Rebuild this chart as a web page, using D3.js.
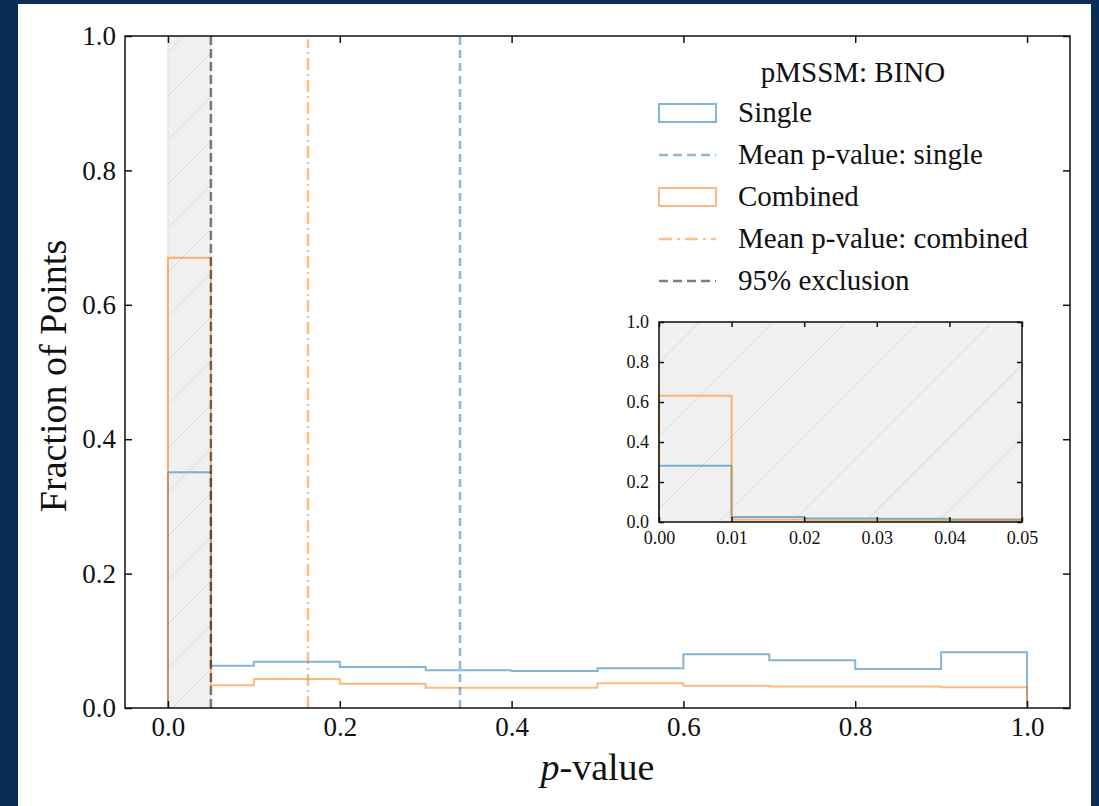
<!DOCTYPE html>
<html>
<head>
<meta charset="utf-8">
<script src="https://cdn.jsdelivr.net/npm/d3@7"></script>
<style>
  html, body { margin: 0; padding: 0; background: #0b2d55; }
  svg { display: block; }
  text { font-family: "Liberation Serif", "DejaVu Serif", serif; fill: #111; }
</style>
</head>
<body>
<svg id="chart"></svg>
<script>
// histogram bin edges and fractions (main panel)
const binEdges = [0, 0.05, 0.1, 0.2, 0.3, 0.4, 0.5, 0.6, 0.7, 0.8, 0.9, 1.0];
const singleFrac = [0.351, 0.063, 0.069, 0.061, 0.056, 0.055, 0.059, 0.080, 0.071, 0.058, 0.083];
const combinedFrac = [0.670, 0.034, 0.043, 0.036, 0.030, 0.030, 0.037, 0.033, 0.032, 0.032, 0.031];

// inset (zoom on 0 - 0.05)
const insetEdges = [0, 0.01, 0.02, 0.03, 0.04, 0.05];
const insetSingle = [0.281, 0.025, 0.018, 0.016, 0.013];
const insetCombined = [0.631, 0.013, 0.008, 0.008, 0.007];

const meanSingle = 0.34;
const meanCombined = 0.163;
const exclusion = 0.05;

const xTicks = [0, 0.2, 0.4, 0.6, 0.8, 1.0];
const yTicks = [0, 0.2, 0.4, 0.6, 0.8, 1.0];
const insetXTicks = [0, 0.01, 0.02, 0.03, 0.04, 0.05];

const legendItems = ["Single", "Mean p-value: single", "Combined", "Mean p-value: combined", "95% exclusion"];

const W = 1099, H = 806;
const blue = "#1f77b4", orange = "#ff7f0e";

const svg = d3.select("#chart").attr("width", W).attr("height", H);

// white page inside navy border
svg.append("rect").attr("x", 18).attr("y", 4).attr("width", 1073).attr("height", H - 4).attr("fill", "#fff");

const defs = svg.append("defs");
function hatch(id, size) {
  const p = defs.append("pattern").attr("id", id)
    .attr("patternUnits", "userSpaceOnUse").attr("width", size).attr("height", size);
  p.append("rect").attr("width", size).attr("height", size).attr("fill", "#f0f0f0");
  p.append("path")
    .attr("d", `M0,${size} L${size},0 M${-size / 2},${size / 2} L${size / 2},${-size / 2} M${size / 2},${size * 1.5} L${size * 1.5},${size / 2}`)
    .attr("stroke", "#dadada").attr("stroke-width", 1);
}
hatch("hatchMain", 44);
hatch("hatchInset", 73);

// step path from edges + heights
function stepPath(x, y, edges, vals) {
  const pts = [[edges[0], 0]];
  vals.forEach((v, i) => { pts.push([edges[i], v]); pts.push([edges[i + 1], v]); });
  pts.push([edges[edges.length - 1], 0]);
  return d3.line().x(d => x(d[0])).y(d => y(d[1]))(pts);
}

// ---- main axes
const m = { left: 125, right: 1070, top: 36, bottom: 708 };
const x = d3.scaleLinear().domain([-0.05, 1.05]).range([m.left, m.right]);
const y = d3.scaleLinear().domain([0, 1]).range([m.bottom, m.top]);

const g = svg.append("g");
g.append("rect")
  .attr("x", x(0)).attr("y", y(1))
  .attr("width", x(exclusion) - x(0)).attr("height", y(0) - y(1))
  .attr("fill", "url(#hatchMain)").attr("stroke", "#e0e0e0").attr("stroke-width", 1);

g.append("path").attr("d", stepPath(x, y, binEdges, singleFrac))
  .attr("fill", "none").attr("stroke", blue).attr("stroke-opacity", 0.55).attr("stroke-width", 2);
g.append("path").attr("d", stepPath(x, y, binEdges, combinedFrac))
  .attr("fill", "none").attr("stroke", orange).attr("stroke-opacity", 0.55).attr("stroke-width", 2);

g.append("line").attr("x1", x(meanSingle)).attr("x2", x(meanSingle)).attr("y1", y(0)).attr("y2", y(1))
  .attr("stroke", "#1f6fa8").attr("stroke-opacity", 0.5).attr("stroke-width", 2.5).attr("stroke-dasharray", "8,5");
g.append("line").attr("x1", x(meanCombined)).attr("x2", x(meanCombined)).attr("y1", y(0)).attr("y2", y(0.995))
  .attr("stroke", orange).attr("stroke-opacity", 0.5).attr("stroke-width", 2.5).attr("stroke-dasharray", "12,4,2,4");
g.append("line").attr("x1", x(exclusion)).attr("x2", x(exclusion)).attr("y1", y(0)).attr("y2", y(1))
  .attr("stroke", "#000").attr("stroke-opacity", 0.5).attr("stroke-width", 2.5).attr("stroke-dasharray", "9,4");

// axes with inward ticks on all sides
function frameAxes(sel, xs, ys, xt, yt, tickLen, fontSize, xfmt, yfmt, xPad, yPad) {
  const bottom = sel.append("g").attr("transform", `translate(0,${ys.range()[0]})`)
    .call(d3.axisBottom(xs).tickValues(xt).tickSize(-tickLen).tickPadding(xPad + tickLen).tickFormat(xfmt));
  const top = sel.append("g").attr("transform", `translate(0,${ys.range()[1]})`)
    .call(d3.axisTop(xs).tickValues(xt).tickSize(-tickLen).tickFormat(""));
  const left = sel.append("g").attr("transform", `translate(${xs.range()[0]},0)`)
    .call(d3.axisLeft(ys).tickValues(yt).tickSize(-tickLen).tickPadding(yPad + tickLen).tickFormat(yfmt));
  const right = sel.append("g").attr("transform", `translate(${xs.range()[1]},0)`)
    .call(d3.axisRight(ys).tickValues(yt).tickSize(-tickLen).tickFormat(""));
  [bottom, top, left, right].forEach(a => {
    a.select(".domain").remove();
    a.selectAll(".tick line").attr("stroke", "#111").attr("stroke-width", 1.5);
    a.selectAll("text").attr("font-size", fontSize).attr("font-family", "Liberation Serif").attr("fill", "#111");
  });
  sel.append("rect")
    .attr("x", xs.range()[0]).attr("y", ys.range()[1])
    .attr("width", xs.range()[1] - xs.range()[0]).attr("height", ys.range()[0] - ys.range()[1])
    .attr("fill", "none").attr("stroke", "#111").attr("stroke-width", 1.5);
}
frameAxes(g, x, y, xTicks, yTicks, 7, 27, d3.format(".1f"), d3.format(".1f"), 2, 2);

g.append("text").attr("x", (m.left + m.right) / 2).attr("y", 780).attr("text-anchor", "middle")
  .attr("font-size", 38)
  .call(t => {
    t.append("tspan").attr("font-style", "italic").text("p");
    t.append("tspan").text("-value");
  });
g.append("text").attr("transform", `translate(66,${(m.top + m.bottom) / 2 + 4}) rotate(-90)`)
  .attr("text-anchor", "middle").attr("font-size", 38).text("Fraction of Points");

// ---- legend
const lg = svg.append("g");
lg.append("text").attr("x", 853).attr("y", 82).attr("text-anchor", "middle").attr("font-size", 29).text("pMSSM: BINO");
legendItems.forEach((label, i) => {
  const cy = 113 + i * 42;
  const row = lg.append("g");
  if (i === 0 || i === 2) {
    row.append("rect").attr("x", 659).attr("y", cy - 9).attr("width", 57).attr("height", 18)
      .attr("fill", "none").attr("stroke", i === 0 ? blue : orange).attr("stroke-opacity", 0.55).attr("stroke-width", 2);
  } else {
    const style = i === 1 ? { c: "#1f6fa8", o: 0.5, d: "9,5" }
      : i === 3 ? { c: orange, o: 0.5, d: "13,5,3,5" }
      : { c: "#000", o: 0.5, d: "9,5" };
    row.append("line").attr("x1", 659).attr("x2", 716).attr("y1", cy).attr("y2", cy)
      .attr("stroke", style.c).attr("stroke-opacity", style.o).attr("stroke-width", 2.5).attr("stroke-dasharray", style.d);
  }
  row.append("text").attr("x", 738).attr("y", cy + 9).attr("font-size", 29).text(label);
});

// ---- inset
const ix = d3.scaleLinear().domain([0, 0.05]).range([659, 1022]);
const iy = d3.scaleLinear().domain([0, 1]).range([522, 322]);
const ig = svg.append("g");
ig.append("rect").attr("x", ix.range()[0]).attr("y", iy.range()[1])
  .attr("width", ix.range()[1] - ix.range()[0]).attr("height", iy.range()[0] - iy.range()[1]).attr("fill", "#fff");
ig.append("rect").attr("x", ix(0)).attr("y", iy(1))
  .attr("width", ix(0.05) - ix(0)).attr("height", iy(0) - iy(1))
  .attr("fill", "url(#hatchInset)").attr("stroke", "#dcdcdc").attr("stroke-width", 1);
ig.append("path").attr("d", stepPath(ix, iy, insetEdges, insetSingle))
  .attr("fill", "none").attr("stroke", blue).attr("stroke-opacity", 0.55).attr("stroke-width", 2);
ig.append("path").attr("d", stepPath(ix, iy, insetEdges, insetCombined))
  .attr("fill", "none").attr("stroke", orange).attr("stroke-opacity", 0.55).attr("stroke-width", 2);
frameAxes(ig, ix, iy, insetXTicks, yTicks, 5, 18, d3.format(".2f"), d3.format(".1f"), 4, 5);
</script>
</body>
</html>
